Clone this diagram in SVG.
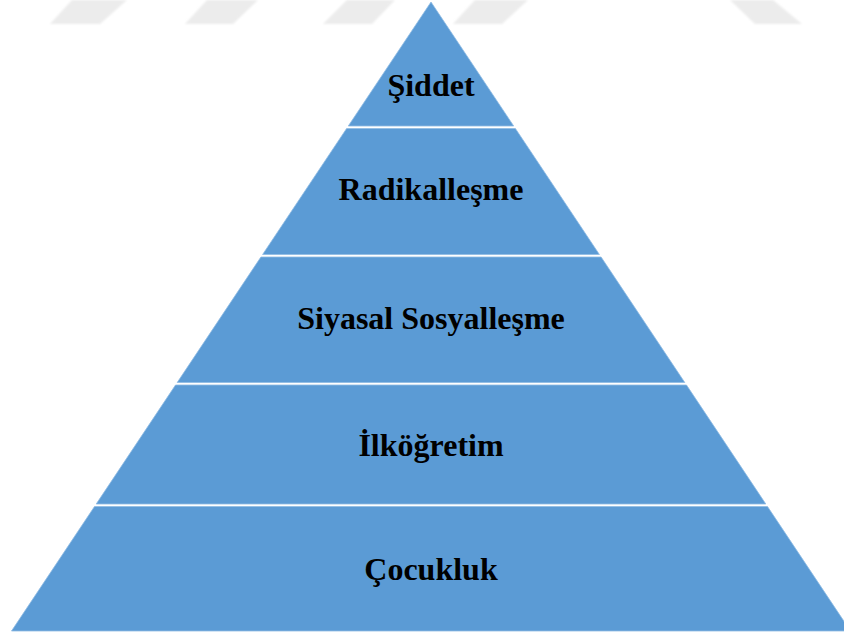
<svg xmlns="http://www.w3.org/2000/svg" width="844" height="632" viewBox="0 0 844 632">
<style>
.wm{fill:#ececec;filter:url(#soft)}
.band{fill:#5b9bd5;stroke:#8fbbe3;stroke-width:0.8}
.lbl{font-family:"Liberation Serif","Times New Roman",serif;font-weight:bold;font-size:32px;fill:#000;text-anchor:middle}
</style>
<defs>
<filter id="soft" x="-10%" y="-30%" width="120%" height="160%"><feGaussianBlur stdDeviation="0.8"/></filter>
</defs>
<rect width="844" height="632" fill="#fff"/>
<g id="watermark">
<polygon class="wm" points="72,0 127,0 100,24 50,24"/>
<polygon class="wm" points="207,0 258,0 233,24 185,24"/>
<polygon class="wm" points="347,0 395,0 372,24 323,24"/>
<polygon class="wm" points="475,0 528,0 502,24 453,24"/>
<polygon class="wm" points="730,0 773,0 802,24 755,24"/>
</g>
<g id="siddet">
<polygon class="band" points="431,2 513.7,126 348.3,126"/>
<text class="lbl" x="431" y="96">Şiddet</text>
</g>
<g id="radikallesme">
<polygon class="band" points="346.6,128.5 515.4,128.5 599.4,254.5 262.6,254.5"/>
<text class="lbl" x="431" y="200">Radikalleşme</text>
</g>
<g id="siyasal-sosyallesme">
<polygon class="band" points="260.9,257 601.1,257 684.8,382.5 177.2,382.5"/>
<text class="lbl" x="431" y="329">Siyasal Sosyalleşme</text>
</g>
<g id="ilkogretim">
<polygon class="band" points="175.5,385 686.5,385 765.8,504 96.2,504"/>
<text class="lbl" x="431" y="456">İlköğretim</text>
</g>
<g id="cocukluk">
<polygon class="band" points="94.5,506.5 767.5,506.5 850.5,631 11.5,631"/>
<text class="lbl" x="431" y="580">Çocukluk</text>
</g>
<g id="connectors"/>
</svg>
